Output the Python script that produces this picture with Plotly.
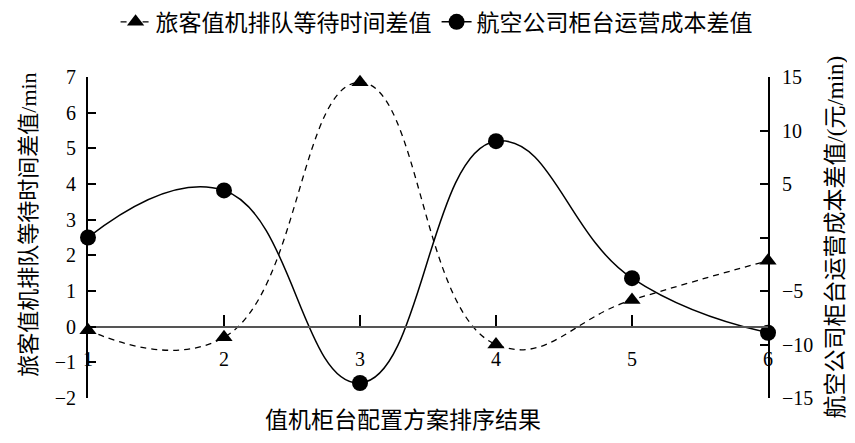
import plotly.graph_objects as go

# ranking of counter configuration schemes
schemes = [1, 2, 3, 4, 5, 6]
# passenger check-in queue waiting time difference (min), left axis
wait_diff = [-0.1, -0.3, 6.85, -0.5, 0.75, 1.85]
# airline counter operating cost difference (yuan/min), right axis
cost_diff = [0.0, 4.4, -13.6, 9.0, -3.8, -8.9]

left_ticks = [-2, -1, 0, 1, 2, 3, 4, 5, 6, 7]
right_ticks = [-15, -10, -5, 0, 5, 10, 15]
right_labels = ["\u221215", "\u221210", "\u22125", "", "5", "10", "15"]

FONT = "Liberation Serif, Noto Sans CJK SC"

fig = go.Figure()
fig.add_trace(go.Scatter(
    x=schemes, y=wait_diff, name="旅客值机排队等待时间差值",
    mode="lines+markers", yaxis="y",
    line=dict(color="black", width=1.3, dash="6px,5px", shape="spline", smoothing=1.3),
    marker=dict(symbol="triangle-up", size=15, color="black"),
    cliponaxis=False,
))
fig.add_trace(go.Scatter(
    x=schemes, y=cost_diff, name="航空公司柜台运营成本差值",
    mode="lines+markers", yaxis="y2",
    line=dict(color="black", width=1.5, shape="spline", smoothing=1.3),
    marker=dict(symbol="circle", size=16, color="black"),
    cliponaxis=False,
))

# page body has an 8px margin, so the figure is 8px smaller than the window
fig.update_layout(
    width=847, height=435,
    margin=dict(l=80, r=87, t=69, b=45, autoexpand=False),
    paper_bgcolor="white", plot_bgcolor="white",
    font=dict(family=FONT, size=20, color="black"),
    showlegend=True,
    legend=dict(orientation="h", x=0.506, xref="container", xanchor="center",
                y=0.968, yref="container", yanchor="middle",
                font=dict(family=FONT, size=23), itemwidth=30),
    xaxis=dict(
        range=[1, 6], tickvals=schemes, anchor="free", position=2 / 9,
        showline=True, linecolor="#555", linewidth=1.5,
        ticks="inside", ticklen=11, tickwidth=2, tickcolor="black",
        ticklabelstandoff=15, showgrid=False, zeroline=False, automargin=False,
        tickfont=dict(family=FONT, size=20),
    ),
    yaxis=dict(
        range=[-2, 7], tickvals=left_ticks,
        showline=True, linecolor="black", linewidth=2,
        ticks="inside", ticklen=8, tickwidth=2, tickcolor="black",
        ticklabelstandoff=6, showgrid=False, zeroline=False, automargin=False,
        tickfont=dict(family=FONT, size=20),
    ),
    yaxis2=dict(
        range=[-15, 15], tickvals=right_ticks, ticktext=right_labels,
        overlaying="y", side="right", anchor="x",
        showline=True, linecolor="black", linewidth=2,
        ticks="inside", ticklen=8, tickwidth=2, tickcolor="black",
        ticklabelstandoff=8, showgrid=False, zeroline=False, automargin=False,
        tickfont=dict(family=FONT, size=20),
    ),
)

fig.add_annotation(text="值机柜台配置方案排序结果", xref="paper", yref="paper",
                   x=0.463, y=-0.07, yanchor="middle", showarrow=False,
                   font=dict(family=FONT, size=23))
fig.add_annotation(text="旅客值机排队等待时间差值/min", xref="paper", yref="paper",
                   x=-0.108, y=0.54, textangle=-90, showarrow=False,
                   font=dict(family=FONT, size=22))
fig.add_annotation(text="航空公司柜台运营成本差值/(元/min)", xref="paper", yref="paper",
                   x=1.12, y=0.5, textangle=-90, showarrow=False,
                   font=dict(family=FONT, size=23))

fig.write_html("out.html")
